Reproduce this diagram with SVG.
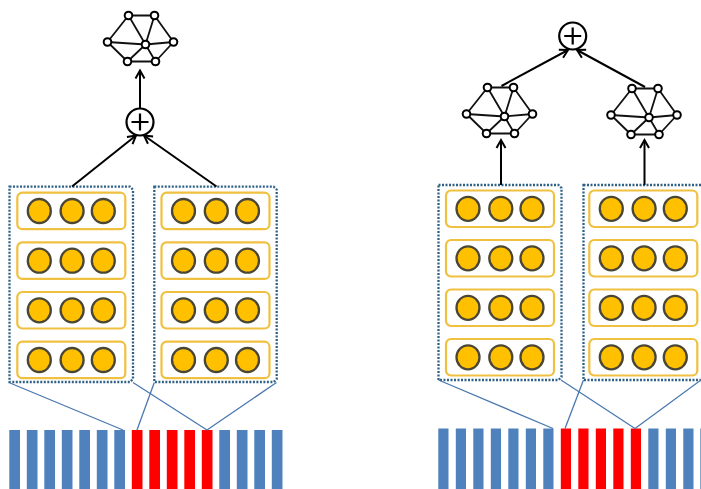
<svg xmlns="http://www.w3.org/2000/svg" xmlns:xlink="http://www.w3.org/1999/xlink" width="701" height="489" viewBox="0 0 701 489">
<style>
.dot{fill:none;stroke:#2f6187;stroke-width:2.3;stroke-dasharray:2 1.5}
.row{fill:#fff;stroke:#f0c040;stroke-width:2.2}
.neu{fill:#ffc000;stroke:#4a4636;stroke-width:2.3}
.blue{fill:#4f81bd}
.red{fill:#ff0000}
.conn{stroke:#4a78b0;stroke-width:1.3;fill:none}
.arr{stroke:#000;stroke-width:2;fill:none}
.gedge{stroke:#111;stroke-width:1.8;fill:none}
.gnode{fill:#fff;stroke:#000;stroke-width:2}
.plus{fill:#fff;stroke:#000;stroke-width:2.2}
</style>
<defs>
<marker id="ah" markerWidth="12" markerHeight="12" refX="9" refY="6" orient="auto" markerUnits="userSpaceOnUse">
<path d="M1,1.5 L9,6 L1,10.5" fill="none" stroke="#000" stroke-width="2"/>
</marker>
<g id="graph">
<path class="gedge" d="M-17,-29 L9,-29 M-17,-29 L-38,-2.5 M-17,-29 L0,0 M9,-29 L0,0 M9,-29 L28,-2.5 M-38,-2.5 L0,0 L28,-2.5 M-38,-2.5 L-18,17 M0,0 L-18,17 M0,0 L10,17 M-18,17 L10,17 M28,-2.5 L10,17"/>
<circle class="gnode" cx="-17" cy="-29" r="3.8"/>
<circle class="gnode" cx="9" cy="-29" r="3.8"/>
<circle class="gnode" cx="-38" cy="-2.5" r="3.8"/>
<circle class="gnode" cx="0" cy="0" r="3.8"/>
<circle class="gnode" cx="28" cy="-2.5" r="3.8"/>
<circle class="gnode" cx="-18" cy="17" r="3.8"/>
<circle class="gnode" cx="10" cy="17" r="3.8"/>
</g>
<g id="row">
<rect class="row" x="0" y="0" width="108" height="36.5" rx="5"/>
<ellipse class="neu" cx="22" cy="18.3" rx="11.5" ry="12"/>
<ellipse class="neu" cx="54.8" cy="18.3" rx="11.5" ry="12"/>
<ellipse class="neu" cx="86" cy="18.3" rx="11.5" ry="12"/>
</g>
<g id="plusSym">
<circle class="plus" cx="0" cy="0" r="13.5"/>
<path d="M-8.5,0 H8.5 M0,-8.5 V8.5" stroke="#000" stroke-width="2.2"/>
</g>
</defs>

<!-- input bars -->
<g id="bars-left">
<rect class="blue" x="9.3" y="430" width="10.7" height="59"/>
<rect class="blue" x="26.8" y="430" width="10.7" height="59"/>
<rect class="blue" x="44.3" y="430" width="10.7" height="59"/>
<rect class="blue" x="61.8" y="430" width="10.7" height="59"/>
<rect class="blue" x="79.3" y="430" width="10.7" height="59"/>
<rect class="blue" x="96.8" y="430" width="10.7" height="59"/>
<rect class="blue" x="114.3" y="430" width="10.7" height="59"/>
<rect class="red" x="131.8" y="430" width="10.7" height="59"/>
<rect class="red" x="149.3" y="430" width="10.7" height="59"/>
<rect class="red" x="166.8" y="430" width="10.7" height="59"/>
<rect class="red" x="184.3" y="430" width="10.7" height="59"/>
<rect class="red" x="201.8" y="430" width="10.7" height="59"/>
<rect class="blue" x="219.3" y="430" width="10.7" height="59"/>
<rect class="blue" x="236.8" y="430" width="10.7" height="59"/>
<rect class="blue" x="254.3" y="430" width="10.7" height="59"/>
<rect class="blue" x="271.8" y="430" width="10.7" height="59"/>
</g>
<g id="bars-right">
<rect class="blue" x="438.3" y="428.5" width="10.2" height="61"/>
<rect class="blue" x="455.8" y="428.5" width="10.2" height="61"/>
<rect class="blue" x="473.3" y="428.5" width="10.2" height="61"/>
<rect class="blue" x="490.8" y="428.5" width="10.2" height="61"/>
<rect class="blue" x="508.3" y="428.5" width="10.2" height="61"/>
<rect class="blue" x="525.8" y="428.5" width="10.2" height="61"/>
<rect class="blue" x="543.3" y="428.5" width="10.2" height="61"/>
<rect class="red" x="560.8" y="428.5" width="10.2" height="61"/>
<rect class="red" x="578.3" y="428.5" width="10.2" height="61"/>
<rect class="red" x="595.8" y="428.5" width="10.2" height="61"/>
<rect class="red" x="613.3" y="428.5" width="10.2" height="61"/>
<rect class="red" x="630.8" y="428.5" width="10.2" height="61"/>
<rect class="blue" x="648.3" y="428.5" width="10.2" height="61"/>
<rect class="blue" x="665.8" y="428.5" width="10.2" height="61"/>
<rect class="blue" x="683.3" y="428.5" width="10.2" height="61"/>
<rect class="blue" x="700.3" y="428.5" width="10.2" height="61"/>
</g>

<!-- left panel -->
<g id="boxA">
<path class="dot" d="M9.5,186.7 H130 L133,189.7 V379 L130,382 H9.5 Z"/>
<use xlink:href="#row" x="17.3" y="192.7"/>
<use xlink:href="#row" x="17.3" y="242.4"/>
<use xlink:href="#row" x="17.3" y="292"/>
<use xlink:href="#row" x="17.3" y="341.7"/>
</g>
<g id="boxB">
<path class="dot" d="M154.3,186.7 H273.7 L276.7,189.7 V379 L273.7,382 H154.3 Z"/>
<use xlink:href="#row" x="161.5" y="192.7"/>
<use xlink:href="#row" x="161.5" y="242.4"/>
<use xlink:href="#row" x="161.5" y="292"/>
<use xlink:href="#row" x="161.5" y="341.7"/>
</g>
<g id="plusL"><use xlink:href="#plusSym" x="140" y="122"/></g>
<g id="graphL"><use xlink:href="#graph" x="145.5" y="44.5"/></g>

<!-- right panel -->
<g id="boxC">
<path class="dot" d="M438.5,185 H558.5 L561.5,188 V377 L558.5,380 H438.5 Z"/>
<use xlink:href="#row" x="446" y="190.5"/>
<use xlink:href="#row" x="446" y="240"/>
<use xlink:href="#row" x="446" y="289.5"/>
<use xlink:href="#row" x="446" y="339"/>
</g>
<g id="boxD">
<path class="dot" d="M583.5,185 H703 L706,188 V377 L703,380 H583.5 Z"/>
<use xlink:href="#row" x="589.3" y="190.5"/>
<use xlink:href="#row" x="589.3" y="240"/>
<use xlink:href="#row" x="589.3" y="289.5"/>
<use xlink:href="#row" x="589.3" y="339"/>
</g>
<g id="graphR1"><use xlink:href="#graph" x="504.5" y="116.5"/></g>
<g id="graphR2"><use xlink:href="#graph" x="649" y="117.5"/></g>
<g id="plusR"><use xlink:href="#plusSym" x="572.7" y="36"/></g>

<!-- connectors -->
<g id="connectors">
<path class="conn" d="M10,383 L123,430"/>
<path class="conn" d="M133,382.5 L207,430"/>
<path class="conn" d="M154.3,382.5 L137,430"/>
<path class="conn" d="M276.5,382.5 L207,430"/>
<path class="conn" d="M438.5,380 L553,428.5"/>
<path class="conn" d="M561,380 L635,428.5"/>
<path class="conn" d="M583.5,380 L565,428.5"/>
<path class="conn" d="M703,378.5 L635,428.5"/>
<path class="arr" d="M72,186.5 L136,135.5" marker-end="url(#ah)"/>
<path class="arr" d="M216.5,186.5 L144,135.5" marker-end="url(#ah)"/>
<path class="arr" d="M140,108 V70.5" marker-end="url(#ah)"/>
<path class="arr" d="M501,185 V140" marker-end="url(#ah)"/>
<path class="arr" d="M644.5,185 V140" marker-end="url(#ah)"/>
<path class="arr" d="M501.5,86 L568,50" marker-end="url(#ah)"/>
<path class="arr" d="M645,87 L577,50" marker-end="url(#ah)"/>
</g>
</svg>
